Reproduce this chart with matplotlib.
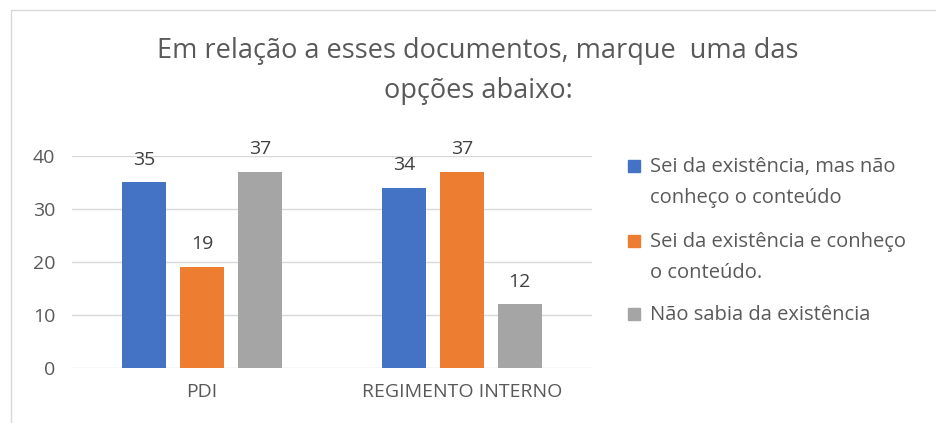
import matplotlib.pyplot as plt
import matplotlib.patches as mpatches
import numpy as np

plt.rcParams['font.family'] = ['Open Sans', 'DejaVu Sans']

categories = ['PDI', 'REGIMENTO INTERNO']
series_names = ['Sei da existência, mas não\nconheço o conteúdo',
                'Sei da existência e conheço\no conteúdo.',
                'Não sabia da existência']
values = [[35, 34],
          [19, 37],
          [37, 12]]
colors = ['#4472C4', '#ED7D31', '#A5A5A5']
title = 'Em relação a esses documentos, marque  uma das\nopções abaixo:'

fig = plt.figure(figsize=(9.37, 4.23), dpi=100)
# light frame of the chart area
fig.patches.append(mpatches.Rectangle((11/937, -0.1), 1.2, 1.1 - 10/423,
                                      transform=fig.transFigure, fill=False,
                                      edgecolor='#d9d9d9', lw=1))
ax = fig.add_axes([72/937, 55/423, 520/937, 212/423])

x = np.arange(len(categories))
w = 0.17
step = 0.222
for i, (vals, c) in enumerate(zip(values, colors)):
    pos = x + (i - 1) * step
    bars = ax.bar(pos, vals, width=w, color=c, zorder=3)
    for b, v in zip(bars, vals):
        ax.annotate(str(v), (b.get_x() + b.get_width() / 2, v),
                    xytext=(0, 10), textcoords='offset points',
                    ha='center', va='bottom', fontsize=14, color='#404040')

ax.set_xlim(-0.5, 1.5)
ax.set_ylim(0, 40)
ax.set_yticks([0, 10, 20, 30, 40])
ax.set_xticks(x)
ax.set_xticklabels(categories)
ax.grid(axis='y', color='#d9d9d9', lw=1, zorder=0)
for s in ax.spines.values():
    s.set_visible(False)
ax.tick_params(length=0, labelsize=14, colors='#595959', pad=11)
ax.tick_params(axis='y', pad=12)

fig.text(478/937, 1 - 71/423, title, ha='center', va='center', fontsize=19.5,
         color='#595959', linespacing=1.6)

# legend drawn by hand so the square sits at the first text line
leg_y = [166, 241, 314]
for name, c, yy in zip(series_names, colors, leg_y):
    fig.patches.append(mpatches.Rectangle((628/937, 1 - (yy + 6)/423), 12/937, 12/423,
                                          transform=fig.transFigure, color=c))
    fig.text(650/937, 1 - (yy - 9)/423, name, ha='left', va='top', fontsize=14.5,
             color='#595959', linespacing=1.75)

fig.savefig('out.png', dpi=100)
